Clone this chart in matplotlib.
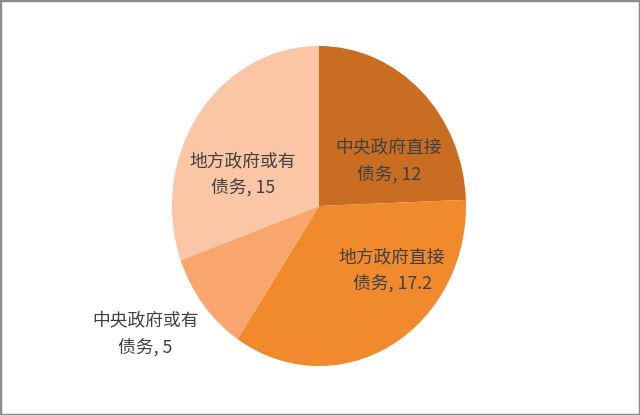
import matplotlib
matplotlib.use('Agg')
import matplotlib.pyplot as plt
from matplotlib.patches import Rectangle

plt.rcParams['font.family'] = ['Noto Sans CJK SC', 'DejaVu Sans']

# 数据
names = ['中央政府直接\n债务', '地方政府直接\n债务', '中央政府或有\n债务', '地方政府或有\n债务']
values = [12, 17.2, 5, 15]
value_texts = ['12', '17.2', '5', '15']
colors = ['#C86D22', '#F08A2D', '#F8A66E', '#FBC6A6']

# label positions (pie data units, radius = 1)
label_pos = [(0.476, 0.275), (0.497, -0.406), (-1.18, -0.806), (-0.517, 0.194)]

fig = plt.figure(figsize=(6.4, 4.15), dpi=100)
# pie is slightly taller than wide in the original
ax = fig.add_axes([172 / 640, 49 / 415, 294 / 640, 320 / 415])

ax.pie(values, colors=colors, startangle=90, counterclock=False,
       radius=1, wedgeprops=dict(linewidth=0))
ax.set_aspect('auto')
ax.set_xlim(-1, 1)
ax.set_ylim(-1, 1)
ax.axis('off')

for name, vt, (x, y) in zip(names, value_texts, label_pos):
    ax.text(x, y, name + ', ' + vt, ha='center', va='center',
            fontsize=12.8, color='#404040', linespacing=1.6, clip_on=False)

# grauer Rahmen um die Grafik
fig.patches.append(Rectangle((0, 0), 1, 1, transform=fig.transFigure,
                             fill=False, edgecolor='#8C8C8C', linewidth=2.5))

fig.savefig('out.png', dpi=100)
